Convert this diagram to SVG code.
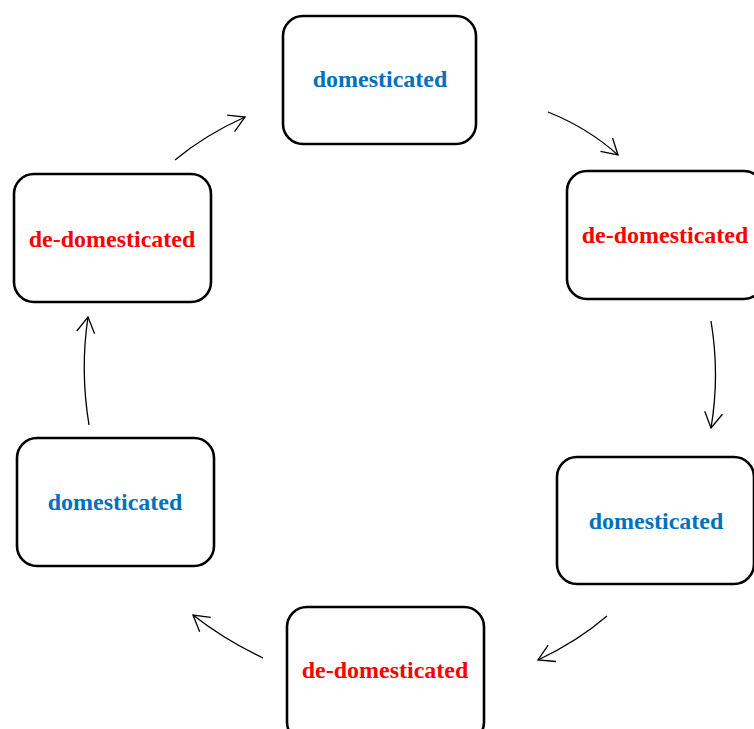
<svg xmlns="http://www.w3.org/2000/svg" width="754" height="729" viewBox="0 0 754 729">
<defs>
<style>
.box{fill:#fff;stroke:#000;stroke-width:2.6}
.t{font-family:"Liberation Serif","Times New Roman",serif;font-weight:bold;font-size:24px;text-anchor:middle}
.blue{fill:#0070C0}
.red{fill:#FF0000}
.c{fill:none;stroke:#000;stroke-width:1.3}
</style>
<marker id="ah" markerUnits="userSpaceOnUse" markerWidth="40" markerHeight="40" refX="0" refY="0" viewBox="-20 -20 40 40" orient="auto">
<path d="M-15.5,-9 L0,0 L-15.5,9" fill="none" stroke="#000" stroke-width="1.3"/>
</marker>
</defs>
<rect width="754" height="729" fill="#fff"/>
<g id="n1"><rect class="box" x="283" y="16" width="193" height="128" rx="20"/><text class="t blue" x="380" y="87">domesticated</text></g>
<g id="n2"><rect class="box" x="567" y="171" width="197" height="128" rx="20"/><text class="t red" x="665" y="243">de-domesticated</text></g>
<g id="n3"><rect class="box" x="557" y="457" width="197" height="127" rx="20"/><text class="t blue" x="656" y="529">domesticated</text></g>
<g id="n4"><rect class="box" x="287" y="607" width="197" height="135" rx="20"/><text class="t red" x="385" y="678">de-domesticated</text></g>
<g id="n5"><rect class="box" x="17" y="438" width="197" height="128" rx="20"/><text class="t blue" x="115" y="510">domesticated</text></g>
<g id="n6"><rect class="box" x="14" y="174" width="197" height="128" rx="20"/><text class="t red" x="112" y="247">de-domesticated</text></g>
<g id="connectors">
<path class="c" marker-end="url(#ah)" d="M548,112 Q588,128 618,155"/>
<path class="c" marker-end="url(#ah)" d="M711,321 Q720,375 711,428"/>
<path class="c" marker-end="url(#ah)" d="M607,616 Q578,641 538,660"/>
<path class="c" marker-end="url(#ah)" d="M263,658 Q225,640 193,615"/>
<path class="c" marker-end="url(#ah)" d="M89,425 Q80,370 88,317"/>
<path class="c" marker-end="url(#ah)" d="M175,160 Q205,135 245,117"/>
</g>
</svg>
